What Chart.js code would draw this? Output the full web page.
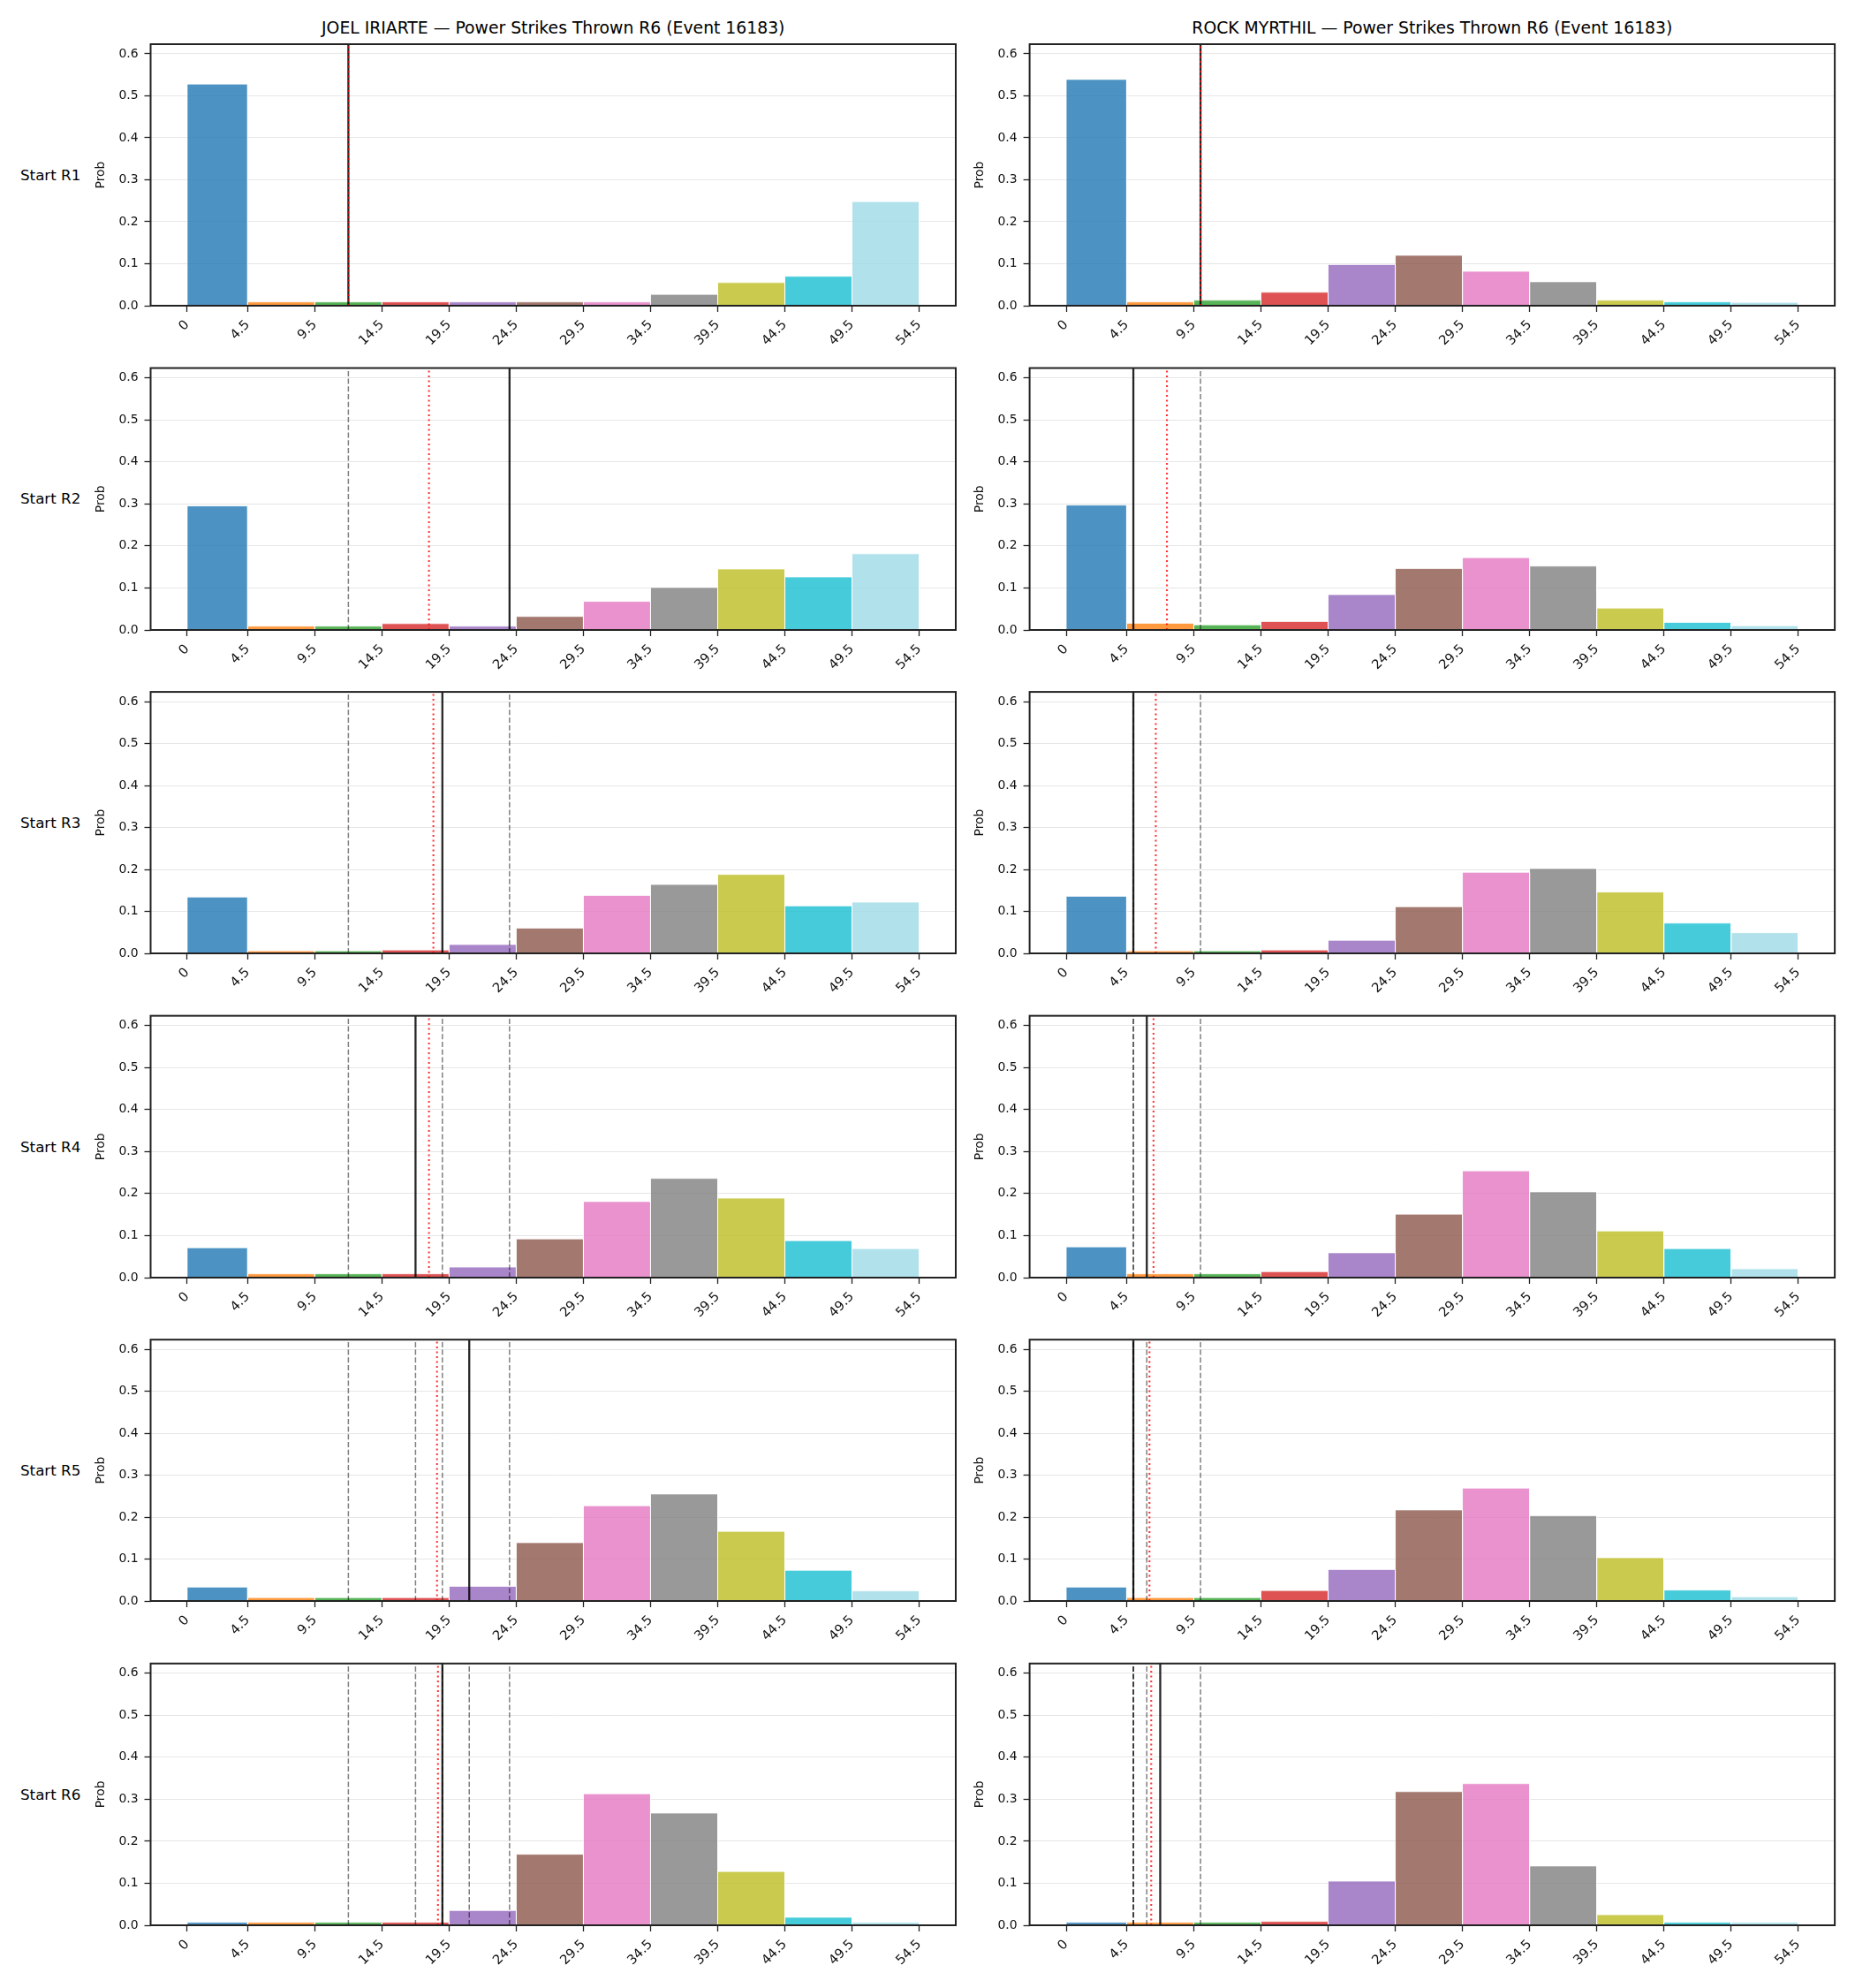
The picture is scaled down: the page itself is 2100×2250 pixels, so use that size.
<!DOCTYPE html>
<html>
<head>
<meta charset="utf-8">
<title>Power Strikes Thrown R6</title>
<script src="https://cdn.jsdelivr.net/npm/chart.js@4"></script>
<style>
  body { margin: 0; background: #fff; }
  #fig { position: relative; width: 2100px; height: 2250px; font-family: 'DejaVu Sans', sans-serif; overflow: hidden; }
  .txt { position: absolute; white-space: nowrap; color: #000; font-size: 16.7px; line-height: 1; }
  canvas { position: absolute; }
</style>
</head>
<body>
<div id="fig"></div>
<script>
// column titles and row labels
const colTitles = ['JOEL IRIARTE — Power Strikes Thrown R6 (Event 16183)', 'ROCK MYRTHIL — Power Strikes Thrown R6 (Event 16183)'];
const rowLabels = ['Start R1', 'Start R2', 'Start R3', 'Start R4', 'Start R5', 'Start R6'];

// histogram bins (edges double as x tick labels)
const binEdges = [0, 4.5, 9.5, 14.5, 19.5, 24.5, 29.5, 34.5, 39.5, 44.5, 49.5, 54.5];
const xTicks = binEdges;
const yTicks = [0, 0.1, 0.2, 0.3, 0.4, 0.5, 0.6];
const yMax = 0.623;

// tab20 sampled over 11 bins, alpha 0.8
const binColors = ['rgba(31,119,180,0.8)', 'rgba(255,127,14,0.8)', 'rgba(44,160,44,0.8)', 'rgba(214,39,40,0.8)',
  'rgba(148,103,189,0.8)', 'rgba(140,86,75,0.8)', 'rgba(227,119,194,0.8)', 'rgba(127,127,127,0.8)',
  'rgba(188,189,34,0.8)', 'rgba(23,190,207,0.8)', 'rgba(158,218,229,0.8)'];

// probabilities per bin, one list per starting round
const joelR1 = [0.528, 0.009, 0.009, 0.009, 0.009, 0.009, 0.009, 0.027, 0.055, 0.070, 0.248];
const joelR2 = [0.295, 0.009, 0.009, 0.015, 0.009, 0.032, 0.068, 0.101, 0.145, 0.126, 0.181];
const joelR3 = [0.134, 0.006, 0.006, 0.008, 0.021, 0.060, 0.138, 0.164, 0.188, 0.113, 0.122];
const joelR4 = [0.071, 0.009, 0.009, 0.009, 0.025, 0.092, 0.181, 0.236, 0.189, 0.088, 0.069];
const joelR5 = [0.033, 0.008, 0.008, 0.008, 0.035, 0.139, 0.227, 0.255, 0.166, 0.073, 0.024];
const joelR6 = [0.007, 0.007, 0.007, 0.007, 0.035, 0.169, 0.313, 0.267, 0.128, 0.019, 0.007];

const rockR1 = [0.539, 0.009, 0.013, 0.032, 0.098, 0.120, 0.082, 0.057, 0.013, 0.009, 0.008];
const rockR2 = [0.297, 0.016, 0.012, 0.020, 0.084, 0.146, 0.172, 0.152, 0.052, 0.018, 0.010];
const rockR3 = [0.136, 0.006, 0.006, 0.008, 0.031, 0.111, 0.193, 0.202, 0.146, 0.072, 0.049];
const rockR4 = [0.073, 0.009, 0.009, 0.014, 0.059, 0.151, 0.254, 0.204, 0.111, 0.069, 0.021];
const rockR5 = [0.033, 0.008, 0.008, 0.025, 0.075, 0.217, 0.269, 0.203, 0.103, 0.026, 0.010];
const rockR6 = [0.007, 0.007, 0.007, 0.009, 0.105, 0.318, 0.337, 0.141, 0.025, 0.007, 0.007];

// actual strikes per round (black solid; earlier rounds shown grey dashed)
const joelActual = [12, 24, 19, 17, 21, 19];
const rockActual = [10, 5, 5, 6, 5, 7];
// running average (red dotted)
const joelAvg = [12, 18, 18.33, 18, 18.6, 18.67];
const rockAvg = [10, 7.5, 6.67, 6.5, 6.2, 6.33];

const probs = [[joelR1, joelR2, joelR3, joelR4, joelR5, joelR6], [rockR1, rockR2, rockR3, rockR4, rockR5, rockR6]];
const actual = [joelActual, rockActual];
const avg = [joelAvg, rockAvg];

// layout (px)
const plotLeft = [170.5, 1165.6];
const plotW = 911.5;
const plotTop0 = 50;
const rowStep = 366.55;
const plotH = 295.7;

Chart.defaults.font.family = "'DejaVu Sans', sans-serif";
Chart.defaults.color = '#111';

const fig = document.getElementById('fig');

function addText(str, x, y, align, size) {
  const d = document.createElement('div');
  d.className = 'txt';
  d.textContent = str;
  d.style.left = x + 'px';
  d.style.top = y + 'px';
  if (size) d.style.fontSize = size + 'px';
  d.style.transform = align === 'center' ? 'translate(-50%,-50%)' : 'translate(0,-50%)';
  fig.appendChild(d);
}

const framePlugin = {
  id: 'frame',
  afterDatasetsDraw(chart) {
    const { ctx, chartArea: a } = chart;
    ctx.save();
    ctx.strokeStyle = '#222';
    ctx.lineWidth = 2;
    ctx.strokeRect(a.left, a.top, a.right - a.left, a.bottom - a.top);
    ctx.restore();
  }
};

function barSets(p) {
  return p.map((v, i) => ({
    data: [{ x: binEdges[i], y: 0 }, { x: binEdges[i], y: v }, { x: binEdges[i + 1], y: v }, { x: binEdges[i + 1], y: 0 }],
    backgroundColor: binColors[i],
    borderColor: 'rgba(255,255,255,0.9)',
    borderWidth: 0.8,
    fill: 'origin',
    pointRadius: 0,
    order: 3
  }));
}

function vline(x, color, width, dash, order) {
  return {
    data: [{ x: x, y: 0 }, { x: x, y: yMax }],
    borderColor: color,
    borderWidth: width,
    borderDash: dash,
    pointRadius: 0,
    fill: false,
    order: order
  };
}

function makePanel(col, row) {
  const pl = plotLeft[col];
  const pt = plotTop0 + row * rowStep;
  const cl = Math.floor(pl - 76);
  const ct = Math.floor(pt - 20);
  const yw = pl - cl;
  const padTop = pt - ct;
  const xh = 62;
  const cw = Math.ceil(yw + plotW + 10);
  const ch = Math.ceil(padTop + plotH + xh);
  const padRight = cw - yw - plotW;

  const cv = document.createElement('canvas');
  cv.width = cw;
  cv.height = ch;
  cv.style.left = cl + 'px';
  cv.style.top = ct + 'px';
  cv.style.width = cw + 'px';
  cv.style.height = ch + 'px';
  fig.appendChild(cv);

  const datasets = [];
  datasets.push(vline(avg[col][row], 'rgba(255,0,0,0.8)', 2.1, [2.1, 3.4], 0));
  datasets.push(vline(actual[col][row], 'rgba(0,0,0,0.85)', 2.3, [], 1));
  for (let k = 0; k < row; k++) {
    datasets.push(vline(actual[col][k], 'rgba(0,0,0,0.5)', 1.5, [6, 2.7], 2));
  }
  datasets.push(...barSets(probs[col][row]));

  new Chart(cv, {
    type: 'line',
    data: { datasets: datasets },
    options: {
      responsive: false,
      animation: false,
      devicePixelRatio: 1,
      events: [],
      layout: { padding: { left: 0, top: padTop, right: padRight, bottom: 0 } },
      plugins: { legend: { display: false }, tooltip: { enabled: false } },
      scales: {
        x: {
          type: 'linear',
          min: -2.725,
          max: 57.225,
          afterBuildTicks: ax => { ax.ticks = xTicks.map(v => ({ value: v })); },
          afterFit: ax => { ax.height = xh; },
          ticks: {
            autoSkip: false,
            minRotation: 45,
            maxRotation: 45,
            padding: 6,
            color: '#111',
            font: { size: 14.8 },
            callback: v => String(v)
          },
          grid: { drawOnChartArea: false, tickLength: 7, tickColor: '#222', tickWidth: 1.3 },
          border: { display: false }
        },
        y: {
          type: 'linear',
          min: 0,
          max: yMax,
          afterBuildTicks: ax => { ax.ticks = yTicks.map(v => ({ value: v })); },
          afterFit: ax => { ax.width = yw; },
          ticks: { padding: 7, color: '#111', font: { size: 13.9 }, callback: v => v.toFixed(1) },
          grid: { color: '#e6e6e6', lineWidth: 1, tickLength: 7, tickColor: '#222', tickWidth: 1.3 },
          border: { display: false },
          title: { display: true, text: 'Prob', color: '#111', font: { size: 13.9 }, padding: { top: 12.5, bottom: 0 } }
        }
      }
    },
    plugins: [framePlugin]
  });
}

for (let c = 0; c < 2; c++) {
  addText(colTitles[c], plotLeft[c] + plotW / 2, 32, 'center', 18.8);
  for (let r = 0; r < 6; r++) {
    makePanel(c, r);
  }
}
for (let r = 0; r < 6; r++) {
  addText(rowLabels[r], 23, plotTop0 + r * rowStep + plotH / 2, 'left');
}
</script>
</body>
</html>
